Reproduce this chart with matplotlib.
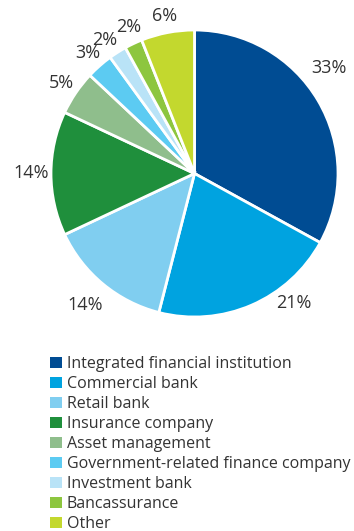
import numpy as np
import matplotlib.pyplot as plt
from matplotlib.patches import Patch

plt.rcParams['font.family'] = ['Open Sans', 'DejaVu Sans']

categories = ['Integrated financial institution', 'Commercial bank', 'Retail bank',
              'Insurance company', 'Asset management', 'Government-related finance company',
              'Investment bank', 'Bancassurance', 'Other']
shares = [33, 21, 14, 14, 5, 3, 2, 2, 6]
colors = ['#004c93', '#00a3e0', '#80cef0', '#1f8f3c', '#8fbe8c', '#5ccbf2',
          '#b9e3f7', '#8dc63f', '#c3d82e']

fig = plt.figure(figsize=(3.54, 5.31), dpi=100)
ax = fig.add_axes([51 / 354, 1 - 317 / 531, 287 / 354, 287 / 531])
wedges, _ = ax.pie(shares, colors=colors, startangle=90, counterclock=False,
                   wedgeprops={'edgecolor': 'white', 'linewidth': 2})

# percentage labels just outside each wedge; the two big ones sit a bit further round
angle_nudge = {0: 7.5, 1: 14, 6: 1.5, 7: -1}
for i, (w, v) in enumerate(zip(wedges, shares)):
    mid = np.deg2rad((w.theta1 + w.theta2) / 2 + angle_nudge.get(i, 0))
    r = 1.19 if i in (0, 2) else (1.14 if i in (1, 3) else 1.12)
    ax.text(r * np.cos(mid), r * np.sin(mid), f'{v}%', ha='center', va='center',
            fontsize=13, color='#333333')

ax.set_xlim(-1, 1)
ax.set_ylim(-1, 1)
ax.set_aspect('equal')
ax.axis('off')

handles = [Patch(facecolor=c, edgecolor='none') for c in colors]
fig.legend(handles, categories, loc='upper left', bbox_to_anchor=(50 / 354, 1 - 356 / 531),
           frameon=False, fontsize=11.5, labelcolor='#333333', handlelength=0.75,
           handleheight=0.75, handletextpad=0.3, labelspacing=0.25, borderpad=0,
           borderaxespad=0)

fig.savefig('out.png', dpi=100)
